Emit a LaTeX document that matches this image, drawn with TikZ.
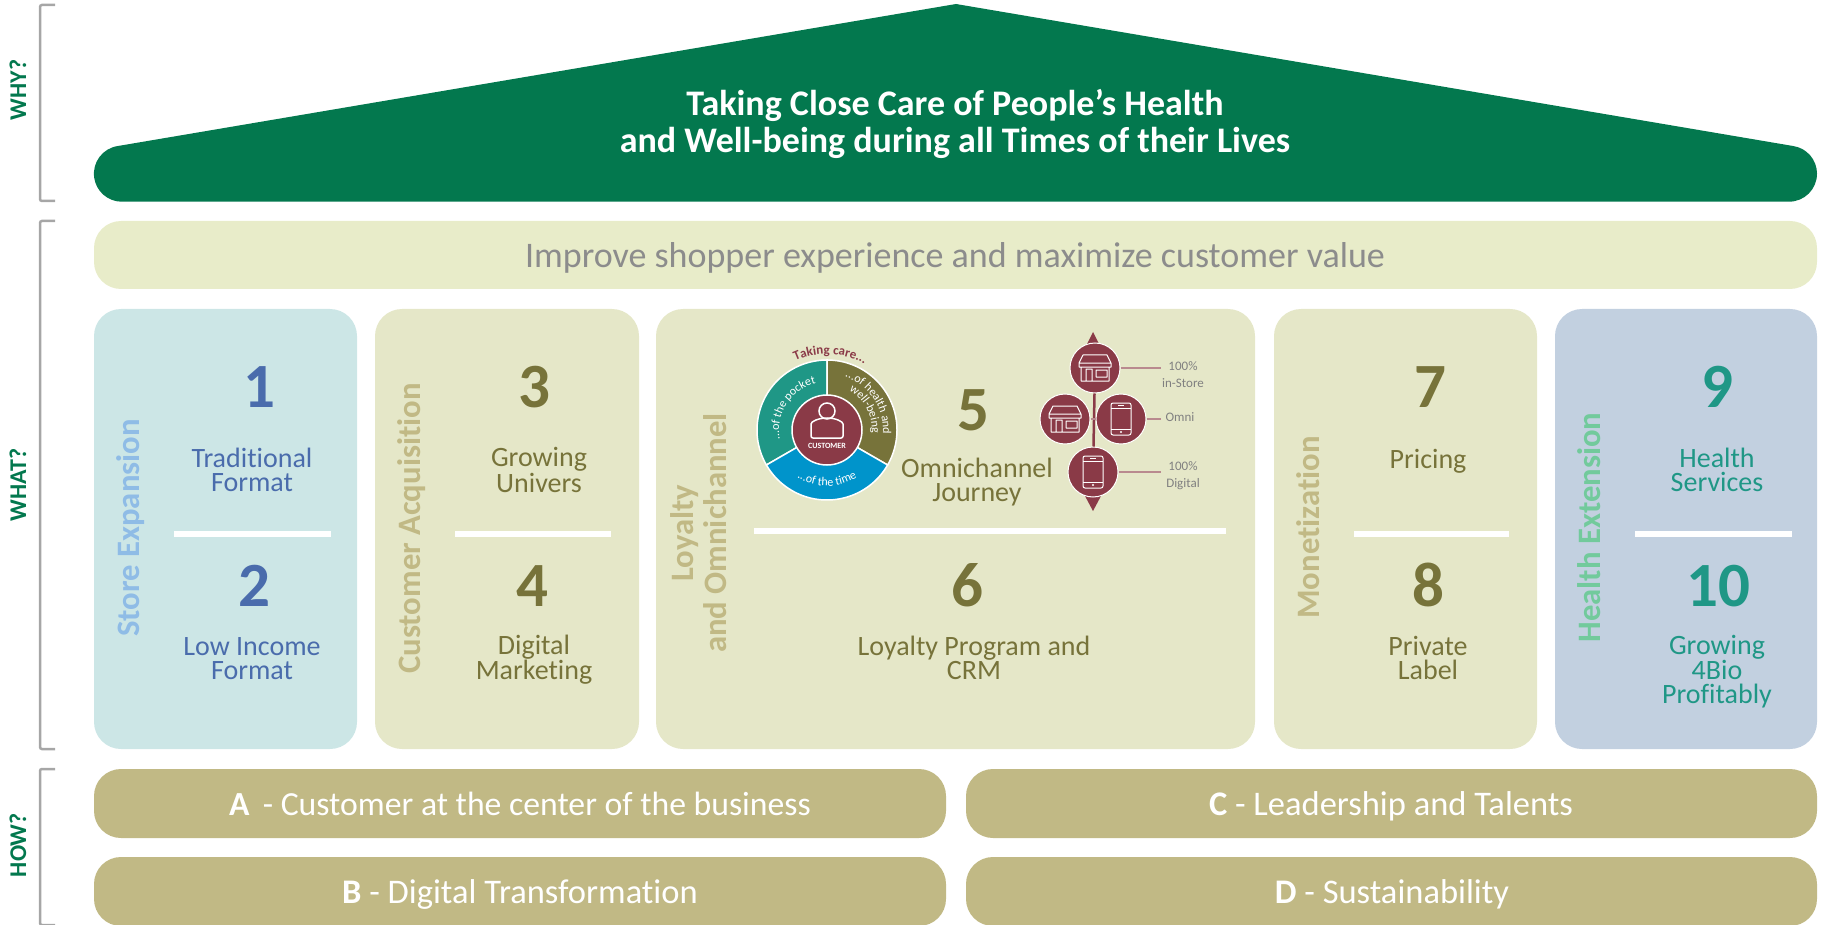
\documentclass[tikz,border=0pt]{standalone}
\usepackage{fontspec}
\setmainfont[Ligatures=NoCommon]{Carlito}
\usetikzlibrary{decorations.text}
\definecolor{roofgreen}{HTML}{03784E}
\definecolor{palegreen}{HTML}{E8ECC9}
\definecolor{paleblue}{HTML}{CCE6E6}
\definecolor{paleolive}{HTML}{E5E7C8}
\definecolor{greyblue}{HTML}{C2D0E0}
\definecolor{rowolive}{HTML}{C1B985}
\definecolor{darkolive}{HTML}{77733A}
\definecolor{storeblue}{HTML}{4A6CAC}
\definecolor{skyblue}{HTML}{8FBCE6}
\definecolor{healthteal}{HTML}{1F9786}
\definecolor{mintgreen}{HTML}{72CA9C}
\definecolor{ringblue}{HTML}{0094CB}
\definecolor{maroon}{HTML}{8A3A47}
\definecolor{leader}{HTML}{B98A8F}
\newcommand{\pxfont}[2]{\fontsize{#1}{#2}\selectfont}
\tikzset{
  panel/.style={fill=#1,rounded corners=27pt},
  sidemark/.style={draw=black!35,line width=2.5pt,rounded corners=2pt},
  sidelabel/.style={text=roofgreen,rotate=90,font=\pxfont{24}{26}\bfseries},
  digit/.style={text=#1,anchor=base,font=\pxfont{63}{63}\bfseries},
  caption/.style={text=#1,align=center,font=\pxfont{28}{24}},
  pillar/.style={text=#1,rotate=90,align=center,font=\pxfont{32.7}{33}\bfseries},
  rowtext/.style={text=white,anchor=base,font=\pxfont{34.5}{36}},
  divider/.style={white,line width=6pt},
  channel/.style={circle,fill=maroon,draw=white,line width=1pt,minimum size=50pt,inner sep=0pt},
  leaderline/.style={leader,line width=1.5pt},
  smallgrey/.style={text=black!50,align=center,font=\pxfont{13}{17}},
  wedge/.style={fill=#1,draw=white,line width=1.5pt},
  ringtext/.style={decorate,decoration={text along path,text align=center,text={#1}}},
  storeicon/.pic={
    \draw[white,line width=1pt,line join=round]
      (-12,-13) -- (12,-13) -- (16,-5) -- (-16,-5) -- cycle
      (-16,-5) -- (-16,-1) -- (16,-1) -- (16,-5)
      (-14,-1) -- (-14,13) -- (14,13) -- (14,-1)
      (-9,13) -- (-9,1) -- (-3,1) -- (-3,13)
      (1,2) rectangle (12,9);
  },
  phoneicon/.pic={
    \draw[white,line width=1pt,rounded corners=2pt] (-10,-16) rectangle (10,16);
    \draw[white,line width=1pt] (-10,-11) -- (10,-11) (-10,10) -- (10,10) (-3,-13.5) -- (3,-13.5);
    \fill[white] (0,13) circle (1.2pt);
  },
}
\begin{document}
\begin{tikzpicture}[x=1pt,y=-1pt]
 \useasboundingbox (0,0) rectangle (1829,925);
 % side marks
 \draw[sidemark] (55,5) -- (40,5) -- (40,201) -- (55,201);
 \draw[sidemark] (55,221) -- (40,221) -- (40,749) -- (55,749);
 \draw[sidemark] (55,769) -- (40,769) -- (40,925) -- (55,925);
 \node[sidelabel] (why) at (18,90) {WHY?};
 \node[sidelabel] (what) at (18,485) {WHAT?};
 \node[sidelabel] (how) at (18,845) {HOW?};
 % roof
 \fill[roofgreen] (956,4) -- (118,146) arc[start angle=98,end angle=270,radius=28pt]
   -- (1789,201.7) arc[start angle=-90,end angle=82,radius=28pt] -- cycle;
 \node[text=white,align=center,font=\pxfont{36}{37}\bfseries] (mission) at (955,123.5)
   {Taking Close Care of People’s Health\\and Well-being during all Times of their Lives};
 % banner
 \fill[panel=palegreen] (94,221) rectangle (1817,289);
 \node[text=black!45,font=\pxfont{36}{38}] (goal) at (955,257.5) {Improve shopper experience and maximize customer value};
 % columns
 \fill[panel=paleblue] (94,309) rectangle (357,749);
 \fill[panel=paleolive] (375,309) rectangle (639,749);
 \fill[panel=paleolive] (656,309) rectangle (1255,749);
 \fill[panel=paleolive] (1274,309) rectangle (1537,749);
 \fill[panel=greyblue] (1555,309) rectangle (1817,749);
 \draw[divider] (174,534) -- (331,534);
 \draw[divider] (455,534) -- (611,534);
 \draw[divider] (754,531) -- (1226,531);
 \draw[divider] (1354,534) -- (1509,534);
 \draw[divider] (1635,534) -- (1792,534);
 \node[pillar=skyblue,anchor=base] (expansion) at (139,528) {Store Expansion};
 \node[pillar=rowolive,anchor=base] (acquisition) at (420.5,528.5) {Customer Acquisition};
 \node[pillar=rowolive] (loyalty) at (699,533) {Loyalty\\and Omnichannel};
 \node[pillar=rowolive,anchor=base] (monetization) at (1319,527.5) {Monetization};
 \node[pillar=mintgreen,anchor=base] (extension) at (1600.5,527.5) {Health Extension};
 \node[digit=storeblue] (n1) at (259,407) {1};
 \node[caption=storeblue] (c1) at (252,470) {Traditional\\Format};
 \node[digit=storeblue] (n2) at (254,606) {2};
 \node[caption=storeblue] (c2) at (252,659) {Low Income\\Format};
 \node[digit=darkolive] (n3) at (534,407) {3};
 \node[caption=darkolive] (c3) at (539,470) {Growing\\Univers};
 \node[digit=darkolive] (n4) at (532,606) {4};
 \node[caption=darkolive] (c4) at (534,660) {Digital\\Marketing};
 \node[digit=darkolive] (n5) at (973,430) {5};
 \node[caption=darkolive] (c5) at (977,482.5) {Omnichannel\\Journey};
 \node[digit=darkolive] (n6) at (967,606) {6};
 \node[caption=darkolive] (c6) at (974,658) {Loyalty Program and\\CRM};
 \node[digit=darkolive] (n7) at (1430,407) {7};
 \node[caption=darkolive] (c7) at (1428,461) {Pricing};
 \node[digit=darkolive] (n8) at (1428,606) {8};
 \node[caption=darkolive] (c8) at (1428,658) {Private\\Label};
 \node[digit=healthteal] (n9) at (1717,407) {9};
 \node[caption=healthteal] (c9) at (1717,470) {Health\\Services};
 \node[digit=healthteal] (n10) at (1718,606) {10};
 \node[caption=healthteal] (c10) at (1717,672) {Growing\\4Bio\\Profitably};
 % ring
 \coordinate (ring) at (827,430);
 \fill[wedge=healthteal] (ring) -- ++(210:70pt) arc[start angle=210,end angle=90,radius=70pt] -- cycle;
 \fill[wedge=darkolive] (ring) -- ++(90:70pt) arc[start angle=90,end angle=-30,radius=70pt] -- cycle;
 \fill[wedge=ringblue] (ring) -- ++(-30:70pt) arc[start angle=-30,end angle=-150,radius=70pt] -- cycle;
 \node[circle,fill=maroon,draw=white,line width=1.5pt,minimum size=70pt,inner sep=0pt] (customer) at (ring) {};
 \draw[white,line width=1.5pt] (827,411) circle (8pt);
 \draw[white,line width=1.5pt,rounded corners=2pt] (811,438) -- (811,426) arc[start angle=180,end angle=0,x radius=16pt,y radius=8pt] -- (843,438) -- cycle;
 \node[text=white,font=\pxfont{8}{8}\bfseries] (customertext) at (827,445.5) {CUSTOMER};
 \path[ringtext={|\pxfont{13}{13}\bfseries\color{maroon}|Taking care...}]
   ([shift={(ring)}]115:76pt) arc[start angle=115,end angle=60,radius=76pt];
 \path[ringtext={|\pxfont{12}{12}\color{white}|...of the pocket}]
   ([shift={(ring)}]190:48pt) arc[start angle=190,end angle=105,radius=48pt];
 \path[ringtext={|\pxfont{12}{12}\color{white}|...of health and}]
   ([shift={(ring)}]75:56pt) arc[start angle=75,end angle=-8,radius=56pt];
 \path[ringtext={|\pxfont{12}{12}\color{white}|well-being}]
   ([shift={(ring)}]65:45pt) arc[start angle=65,end angle=-8,radius=45pt];
 \path[ringtext={|\pxfont{12}{12}\color{white}|...of the time}]
   ([shift={(ring)}]235:56pt) arc[start angle=235,end angle=305,radius=56pt];
 % channels
 \fill[maroon] (1093,332) -- (1099,344) -- (1087,344) -- cycle;
 \fill[maroon] (1093,511) -- (1101,496) -- (1085,496) -- cycle;
 \node[channel] (store) at (1095,368) {};
 \node[channel] (omnistore) at (1065,419) {};
 \node[channel] (omniphone) at (1121,419) {};
 \node[channel] (phone) at (1093,472) {};
 \draw[maroon,line width=2.5pt] (store) -- (phone);
 \draw[leaderline] (omnistore) -- (omniphone);
 \pic at (store) {storeicon};
 \pic at (omnistore) {storeicon};
 \pic at (omniphone) {phoneicon};
 \pic at (phone) {phoneicon};
 \node[smallgrey] (instore) at (1183,375) {100\%\\in-Store};
 \node[smallgrey] (omni) at (1180,417) {Omni};
 \node[smallgrey] (digital) at (1183,476) {100\%\\Digital};
 \coordinate (instoreend) at (1161,368);
 \coordinate (omniend) at (1161,419);
 \coordinate (digitalend) at (1161,472);
 \draw[leaderline] (store) -- (instoreend);
 \draw[leaderline] (omniphone) -- (omniend);
 \draw[leaderline] (phone) -- (digitalend);
 % rows
 \fill[panel=rowolive] (94,769) rectangle (946,838);
 \fill[panel=rowolive] (94,857) rectangle (946,926);
 \fill[panel=rowolive] (966,769) rectangle (1817,838);
 \fill[panel=rowolive] (966,857) rectangle (1817,926);
 \node[rowtext,font=\pxfont{33.7}{36}] (rowa) at (520,815) {\textbf{A}\, - Customer at the center of the business};
 \node[rowtext] (rowb) at (520,903) {\textbf{B} - Digital Transformation};
 \node[rowtext] (rowc) at (1391,815) {\textbf{C} - Leadership and Talents};
 \node[rowtext] (rowd) at (1392,903) {\textbf{D} - Sustainability};
\end{tikzpicture}
\end{document}
